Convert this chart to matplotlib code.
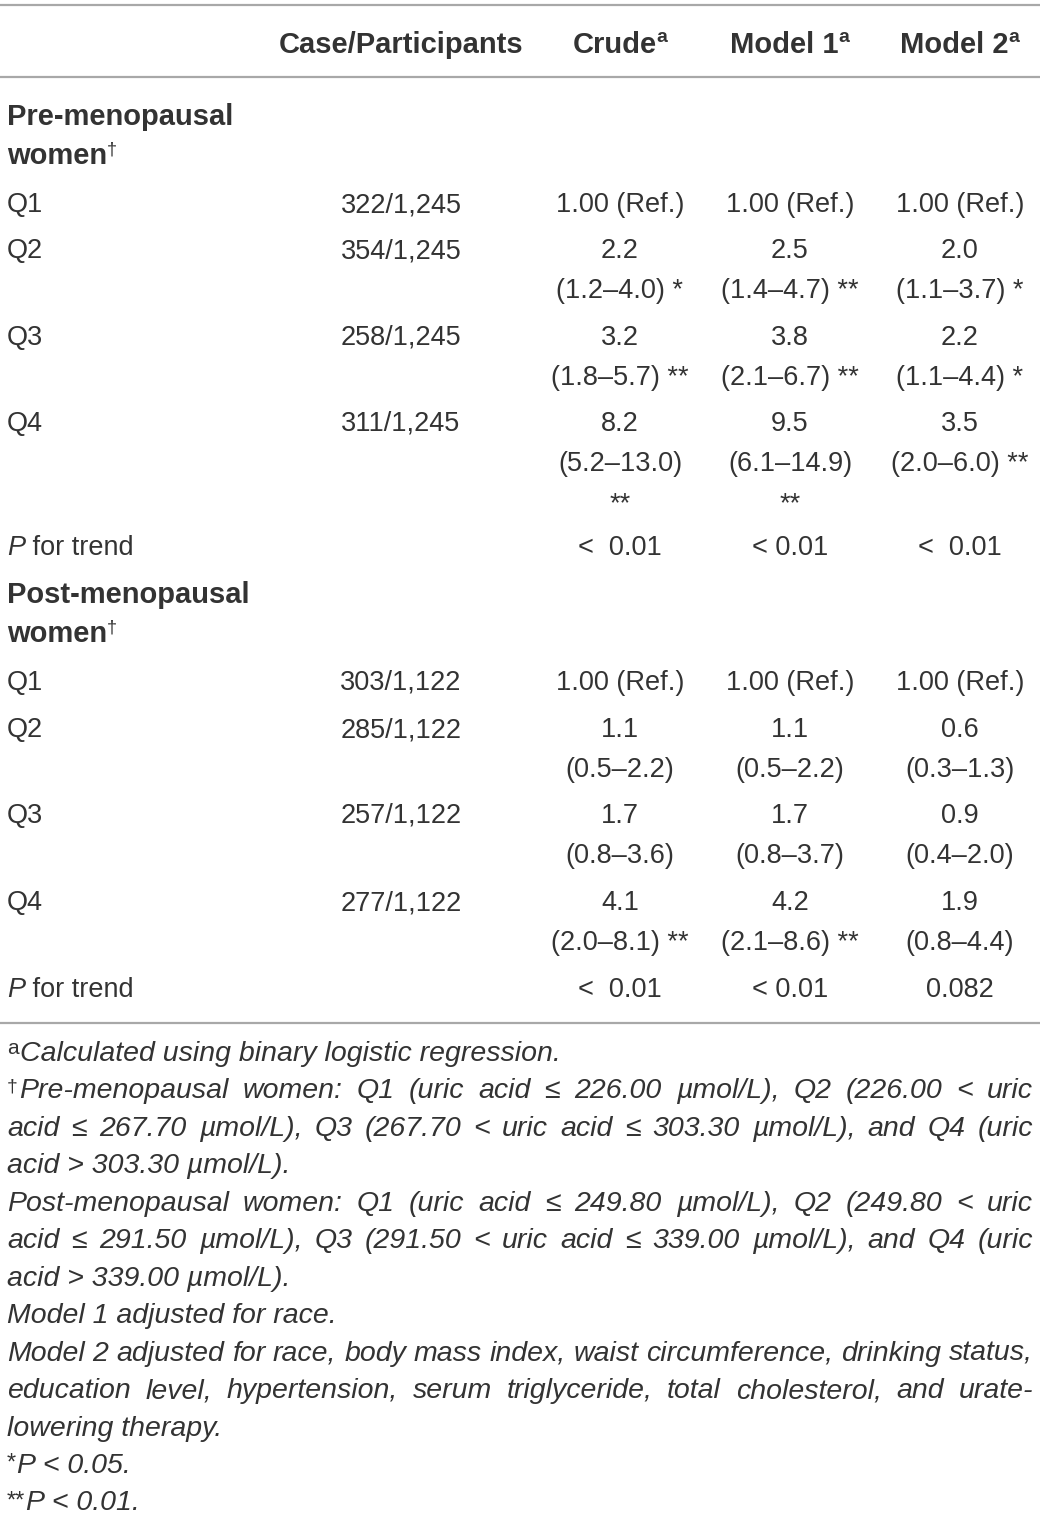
import matplotlib
matplotlib.use("Agg")
import matplotlib.pyplot as plt

W, H = 1040, 1516
INK = "#333333"
RULE = "#a8a8a8"
FAM = "Liberation Sans"
FS = 19.5      # body text, pt
FS_B = 21      # bold headings
FS_NOTE = 20.5 # footnotes
FS_SUP = 14

# ------------------------------------------------------------------
# table content
headers = ["Case/Participants", "Crude", "Model 1", "Model 2"]
col_x = [401, 620, 790, 960]

pre_rows = ["Q1", "Q2", "Q3", "Q4"]
pre_cases = ["322/1,245", "354/1,245", "258/1,245", "311/1,245"]
pre_crude = [["1.00 (Ref.)"], ["2.2", "(1.2\u20134.0) *"], ["3.2", "(1.8\u20135.7) **"],
             ["8.2", "(5.2\u201313.0)", "**"]]
pre_m1 = [["1.00 (Ref.)"], ["2.5", "(1.4\u20134.7) **"], ["3.8", "(2.1\u20136.7) **"],
          ["9.5", "(6.1\u201314.9)", "**"]]
pre_m2 = [["1.00 (Ref.)"], ["2.0", "(1.1\u20133.7) *"], ["2.2", "(1.1\u20134.4) *"],
          ["3.5", "(2.0\u20136.0) **"]]
pre_trend = ["<  0.01", "< 0.01", "<  0.01"]

post_rows = ["Q1", "Q2", "Q3", "Q4"]
post_cases = ["303/1,122", "285/1,122", "257/1,122", "277/1,122"]
post_crude = [["1.00 (Ref.)"], ["1.1", "(0.5\u20132.2)"], ["1.7", "(0.8\u20133.6)"],
              ["4.1", "(2.0\u20138.1) **"]]
post_m1 = [["1.00 (Ref.)"], ["1.1", "(0.5\u20132.2)"], ["1.7", "(0.8\u20133.7)"],
           ["4.2", "(2.1\u20138.6) **"]]
post_m2 = [["1.00 (Ref.)"], ["0.6", "(0.3\u20131.3)"], ["0.9", "(0.4\u20132.0)"],
           ["1.9", "(0.8\u20134.4)"]]
post_trend = ["<  0.01", "< 0.01", "0.082"]

# footnotes: (superscript prefix, text, justified)
notes = [
    ("a", "Calculated using binary logistic regression.", False),
    ("\u2020", "Pre-menopausal women: Q1 (uric acid \u2264 226.00 \u00b5mol/L), Q2 (226.00 < uric", True),
    ("", "acid \u2264 267.70 \u00b5mol/L), Q3 (267.70 < uric acid \u2264 303.30 \u00b5mol/L), and Q4 (uric", True),
    ("", "acid > 303.30 \u00b5mol/L).", False),
    ("", "Post-menopausal women: Q1 (uric acid \u2264 249.80 \u00b5mol/L), Q2 (249.80 < uric", True),
    ("", "acid \u2264 291.50 \u00b5mol/L), Q3 (291.50 < uric acid \u2264 339.00 \u00b5mol/L), and Q4 (uric", True),
    ("", "acid > 339.00 \u00b5mol/L).", False),
    ("", "Model 1 adjusted for race.", False),
    ("", "Model 2 adjusted for race, body mass index, waist circumference, drinking status,", True),
    ("", "education level, hypertension, serum triglyceride, total cholesterol, and urate-", True),
    ("", "lowering therapy.", False),
    ("*", "P < 0.05.", False),
    ("**", "P < 0.01.", False),
]

# ------------------------------------------------------------------
fig = plt.figure(figsize=(W / 100, H / 100), dpi=100)
fig.patch.set_facecolor("white")
renderer = fig.canvas.get_renderer()


def fy(y):
    return 1 - y / H


def fx(x):
    return x / W


def width_of(t):
    return t.get_window_extent(renderer=renderer).width


def runs(x, y, parts, ha="left"):
    """parts: list of (text, kwargs, raise_px)"""
    objs = []
    for txt, kw, rise in parts:
        t = fig.text(0, fy(y - rise), txt, va="baseline", ha="left",
                     family=FAM, color=INK, **kw)
        objs.append(t)
    widths = [width_of(t) for t in objs]
    total = sum(widths)
    if ha == "center":
        x0 = x - total / 2
    elif ha == "right":
        x0 = x - total
    else:
        x0 = x
    for t, w in zip(objs, widths):
        t.set_x(fx(x0))
        x0 += w
    return total


def plain(x, y, s, ha="center", size=FS, **kw):
    fig.text(fx(x), fy(y), s, ha=ha, va="baseline", family=FAM,
             color=INK, fontsize=size, **kw)


def rule(y):
    fig.add_artist(plt.Line2D([0, 1], [fy(y), fy(y)], color=RULE, lw=1.6))


rule(5)
rule(77)
rule(1023)

# header
hdr_y = 53
plain(col_x[0], hdr_y, headers[0], size=FS_B, weight="bold")
for h, cx in zip(headers[1:], col_x[1:]):
    runs(cx, hdr_y, [(h, dict(fontsize=FS_B, weight="bold"), 0),
                     ("a", dict(fontsize=FS_SUP, weight="bold"), 11)], ha="center")


def section(title_y, title, rows, cases, cols, trend, row_y, trend_y):
    plain(7, title_y, title, ha="left", size=FS_B, weight="bold")
    runs(7, title_y + 39, [("women", dict(fontsize=FS_B, weight="bold"), 0),
                           ("\u2020", dict(fontsize=13), 10)])
    for i, (lab, case) in enumerate(zip(rows, cases)):
        y = row_y[i]
        plain(7, y, lab, ha="left")
        plain(col_x[0], y, case)
        for c, col in enumerate(cols):
            for k, line in enumerate(col[i]):
                plain(col_x[c + 1], y + 40 * k, line)
    runs(7, trend_y, [("P", dict(fontsize=FS, style="italic"), 0),
                      (" for trend", dict(fontsize=FS), 0)])
    for c, v in enumerate(trend):
        plain(col_x[c + 1], trend_y, v)


section(125, "Pre-menopausal", pre_rows, pre_cases, [pre_crude, pre_m1, pre_m2],
        pre_trend, [212, 258, 345, 431], 555)
section(603, "Post-menopausal", post_rows, post_cases, [post_crude, post_m1, post_m2],
        post_trend, [690, 737, 823, 910], 997)

# footnotes
left, right = 7, 1033
for i, (pre, txt, just) in enumerate(notes):
    y = 1061 + 37.45 * i
    x = left
    if pre:
        sz = {"a": 15, "\u2020": 14}.get(pre, 17)
        rise = 7 if pre in ("a", "\u2020") else 3
        t = fig.text(fx(x), fy(y - rise), pre, va="baseline", ha="left", family=FAM,
                     color=INK, fontsize=sz)
        x += width_of(t) + 1
    if not just:
        plain(x, y, txt, ha="left", size=FS_NOTE, style="italic")
        continue
    words = txt.split(" ")
    objs = [fig.text(0, fy(y), w, va="baseline", ha="left", family=FAM, color=INK,
                     fontsize=FS_NOTE, style="italic") for w in words]
    ws = [width_of(o) for o in objs]
    gap = (right - x - sum(ws)) / (len(words) - 1)
    for o, w in zip(objs, ws):
        o.set_x(fx(x))
        x += w + gap

fig.savefig("out.png", dpi=100, facecolor="white")
